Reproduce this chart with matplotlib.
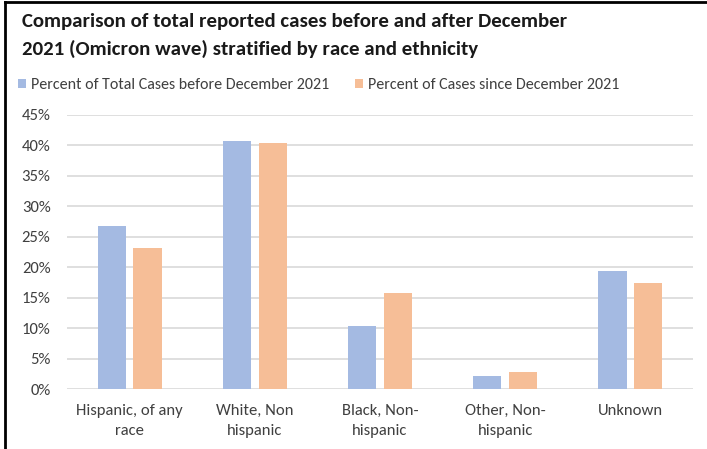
import matplotlib.pyplot as plt
import numpy as np
from matplotlib.ticker import PercentFormatter

categories = ["Hispanic, of any\nrace", "White, Non\nhispanic", "Black, Non-\nhispanic",
              "Other, Non-\nhispanic", "Unknown"]
before_dec = [26.8, 40.7, 10.4, 2.2, 19.4]
since_dec = [23.1, 40.4, 15.7, 2.8, 17.4]
series_names = ["Percent of Total Cases before December 2021", "Percent of Cases since December 2021"]
title_lines = ["Comparison of total reported cases before and after December",
               "2021 (Omicron wave) stratified by race and ethnicity"]

blue = "#A4BAE2"
orange = "#F6BE97"

plt.rcParams['font.family'] = ['Carlito', 'DejaVu Sans']

fig = plt.figure(figsize=(7.07, 4.49), dpi=100)
ax = fig.add_axes([0.095, 0.1336, 0.885, 0.6104])

x = np.arange(len(categories))
w = 0.225
gap = 0.03
ax.bar(x - w / 2 - gap, before_dec, w, color=blue, label=series_names[0], zorder=3)
ax.bar(x + w / 2 + gap, since_dec, w, color=orange, label=series_names[1], zorder=3)

ax.set_xlim(-0.5, len(categories) - 0.5)
ax.set_ylim(0, 45)
ax.set_yticks(np.arange(0, 46, 5))
ax.yaxis.set_major_formatter(PercentFormatter(decimals=0))
ax.grid(axis='y', color='#D9D9D9', linewidth=1.2, zorder=0)
ax.set_xticks(x)
ax.set_xticklabels(categories, fontsize=12, color='#404040', linespacing=1.5)
ax.tick_params(axis='y', labelsize=12, colors='#404040', length=0, pad=12)
ax.tick_params(axis='x', length=0, pad=11)
for s in ax.spines.values():
    s.set_visible(False)

# title, two lines like the original
fig.text(0.031, 1 - 22 / 449, title_lines[0], fontsize=15, fontweight='bold', color='#1a1a1a', va='center')
fig.text(0.031, 1 - 49 / 449, title_lines[1], fontsize=15, fontweight='bold', color='#1a1a1a', va='center')

fig.legend(loc='center left', bbox_to_anchor=(0.026, 1 - 85 / 449), ncol=2, frameon=False,
           fontsize=11.5, handlelength=0.5, handleheight=0.5, handletextpad=0.3,
           columnspacing=1.6, borderpad=0, borderaxespad=0, labelcolor='#404040')

# frame lines of the screenshot
fig.add_artist(plt.Line2D([0.007, 0.007], [0, 0.995], color='black', lw=2, transform=fig.transFigure))
fig.add_artist(plt.Line2D([0.007, 1], [0.995, 0.995], color='black', lw=2, transform=fig.transFigure))

fig.savefig("out.png", dpi=100)
